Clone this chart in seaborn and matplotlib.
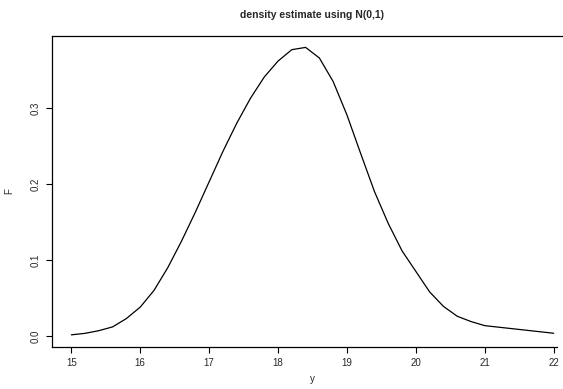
import numpy as np
import pandas as pd
import matplotlib
matplotlib.use("Agg")
import matplotlib.pyplot as plt
from matplotlib.patches import Rectangle
import seaborn as sns

# density estimate (grid step 0.2)
y_grid = [15.0, 15.2, 15.4, 15.6, 15.8, 16.0, 16.2, 16.4, 16.6, 16.8,
          17.0, 17.2, 17.4, 17.6, 17.8, 18.0, 18.2, 18.4, 18.6, 18.8,
          19.0, 19.2, 19.4, 19.6, 19.8, 20.0, 20.2, 20.4, 20.6, 20.8,
          21.0, 21.2, 21.4, 21.6, 21.8, 22.0]
F_vals = [0.0015, 0.0035, 0.007, 0.012, 0.023, 0.038, 0.060, 0.090, 0.125, 0.163,
          0.203, 0.243, 0.280, 0.313, 0.341, 0.362, 0.377, 0.380, 0.366, 0.335,
          0.291, 0.240, 0.190, 0.148, 0.112, 0.085, 0.058, 0.039, 0.026, 0.019,
          0.0136, 0.0116, 0.0096, 0.0076, 0.0056, 0.0036]

x_ticks = [15, 16, 17, 18, 19, 20, 21, 22]
y_ticks = [0.0, 0.1, 0.2, 0.3]

df = pd.DataFrame({"y": y_grid, "F": F_vals})

sns.set_style("ticks")
plt.rcParams["font.family"] = ["Liberation Sans", "DejaVu Sans"]
plt.rcParams["axes.edgecolor"] = "black"
plt.rcParams["axes.linewidth"] = 0.9

fig = plt.figure(figsize=(5.63, 3.89), dpi=100)
# R plot region runs past the right edge of the picture
ax = fig.add_axes([52 / 563, 42 / 389, 521 / 563, 311 / 389])

sns.lineplot(data=df, x="y", y="F", color="black", linewidth=0.9, ax=ax)

ax.set_xlim(14.72, 22.28)
ax.set_ylim(-0.0145, 0.395)
ax.set_xticks(x_ticks)
ax.set_yticks(y_ticks)
ax.set_yticklabels([f"{t:.1f}" for t in y_ticks], rotation=90, va="center")
ax.tick_params(axis="both", direction="out", length=4, width=0.8,
               labelsize=7, color="black", pad=4)
ax.spines["right"].set_visible(False)
ax.spines["right"].set_color("none")
ax.spines["right"].set_linewidth(0)

# keep the cut-off right edge clean between the top and bottom border lines
fig.add_artist(Rectangle((558 / 563, 39 / 389), 6 / 563, 306 / 389,
                         transform=fig.transFigure, facecolor="white",
                         edgecolor="none", zorder=10))

ax.set_xlabel("y", fontsize=7)
ax.xaxis.set_label_coords((312 - 52) / 521, -27 / 311)
ax.set_ylabel("F", fontsize=7, labelpad=12)
fig.text(312 / 563, 1 - 15 / 389, "density estimate using N(0,1)",
         ha="center", va="center", fontsize=7.5, fontweight="bold")

fig.savefig("out.png", dpi=100)
